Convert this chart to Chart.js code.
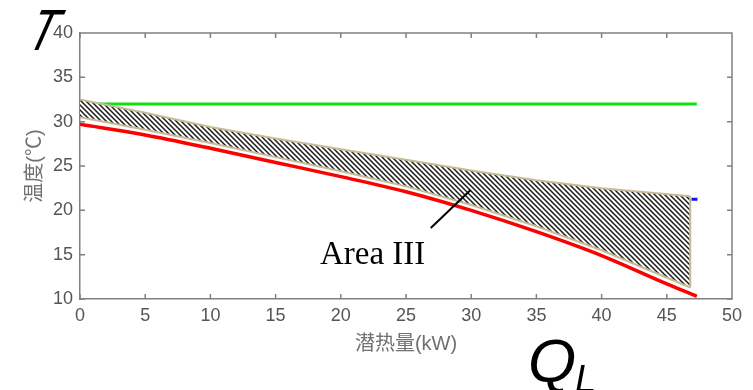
<!DOCTYPE html>
<html>
<head>
<meta charset="utf-8">
<script src="https://cdn.jsdelivr.net/npm/chart.js@4/dist/chart.umd.min.js"></script>
<style>html,body{margin:0;padding:0;background:#fff;}#wrap{width:753px;height:390px;}</style>
</head>
<body>
<div id="wrap"><canvas id="c" width="753" height="390"></canvas></div>
<script>
// ---- data ----
const xTickLabels = ['0','5','10','15','20','25','30','35','40','45','50'];
const yTickLabels = ['10','15','20','25','30','35','40'];

const redX = [0, 5, 10, 15, 20, 25, 30, 35, 40, 45, 47.3];
const redY = [29.7, 28.5, 27.0, 25.4, 23.8, 22.1, 20.0, 17.6, 14.9, 11.7, 10.3];

const greenX = [0, 47.3];
const greenY = [32, 32];

const bandX = [0, 5, 10, 15, 20, 25, 30, 35, 40, 46.8];
const bandTop = [32.5, 31.0, 29.4, 28.1, 26.9, 25.7, 24.5, 23.4, 22.5, 21.6];
const bandBottom = [30.5, 29.1, 27.6, 26.0, 24.4, 22.7, 20.6, 18.2, 15.5, 11.3];

const edgeX = [46.8, 46.8];
const edgeY = [21.6, 11.3];

const blueX = [46.9, 47.35];
const blueY = [21.25, 21.25];

const xAxisTitle = '潜热量(kW)';
const yAxisTitle = '温度(℃)';
const areaLabel = 'Area III';
const arrowFrom = [26.9, 18.0];
const arrowTo = [29.95, 22.3];
const areaLabelPos = [18.4, 14.0];

// ---- helpers ----
const pts = (xs, ys) => xs.map((x, i) => ({x: x, y: ys[i]}));

function hatchPattern() {
  const s = 5;
  const c = document.createElement('canvas');
  c.width = s; c.height = s;
  const g = c.getContext('2d');
  g.fillStyle = '#ffffff';
  g.fillRect(0, 0, s, s);
  g.strokeStyle = '#1a1a1a';
  g.lineWidth = 1.5;
  g.beginPath();
  g.moveTo(-1, -1); g.lineTo(s + 1, s + 1);
  g.moveTo(-1, s - 1); g.lineTo(1, s + 1);
  g.moveTo(s - 1, -1); g.lineTo(s + 1, 1);
  g.stroke();
  return document.getElementById('c').getContext('2d').createPattern(c, 'repeat');
}

const tan = '#c6bd98';
const axisGray = '#808080';
const tickFont = {family: "'Liberation Sans', Arial, sans-serif", size: 18};
const titleFont = {family: "'Liberation Sans', 'Noto Sans CJK SC', sans-serif", size: 20};

const boxPlugin = {
  id: 'boxTicks',
  afterDraw(chart) {
    const {ctx, chartArea: a, scales: {x, y}} = chart;
    ctx.save();
    ctx.strokeStyle = axisGray;
    ctx.lineWidth = 1.5;
    ctx.beginPath();
    ctx.moveTo(a.left, a.top); ctx.lineTo(a.right, a.top); ctx.lineTo(a.right, a.bottom);
    const L = 5;
    x.ticks.forEach(t => {
      const px = x.getPixelForValue(t.value);
      ctx.moveTo(px, a.bottom); ctx.lineTo(px, a.bottom - L);
      ctx.moveTo(px, a.top); ctx.lineTo(px, a.top + L);
    });
    y.ticks.forEach(t => {
      const py = y.getPixelForValue(t.value);
      ctx.moveTo(a.left, py); ctx.lineTo(a.left + L, py);
      ctx.moveTo(a.right, py); ctx.lineTo(a.right - L, py);
    });
    ctx.stroke();

    // annotation: arrow + label
    ctx.strokeStyle = '#000';
    ctx.lineWidth = 2;
    ctx.beginPath();
    ctx.moveTo(x.getPixelForValue(arrowFrom[0]), y.getPixelForValue(arrowFrom[1]));
    ctx.lineTo(x.getPixelForValue(arrowTo[0]), y.getPixelForValue(arrowTo[1]));
    ctx.stroke();
    ctx.fillStyle = '#000';
    ctx.font = "33px 'Liberation Serif', 'Times New Roman', serif";
    ctx.textBaseline = 'alphabetic';
    ctx.textAlign = 'left';
    ctx.fillText(areaLabel, x.getPixelForValue(areaLabelPos[0]), y.getPixelForValue(areaLabelPos[1]));

    // big symbol labels
    ctx.save();
    ctx.translate(23, 50);
    ctx.transform(0.75, 0, -0.44, 1, 0, 0);
    ctx.font = "58px 'Liberation Sans', Arial, sans-serif";
    ctx.fillText('T', 0, 0);
    ctx.restore();
    ctx.font = "italic 62px 'Liberation Sans', Arial, sans-serif";
    ctx.fillText('Q', 528, 382);
    ctx.font = "italic 38px 'Liberation Sans', Arial, sans-serif";
    ctx.fillText('L', 575, 392);
    ctx.restore();
  }
};

new Chart(document.getElementById('c'), {
  type: 'line',
  data: {
    datasets: [
      {label: 'red', data: pts(redX, redY), borderColor: '#ff0000', borderWidth: 3.5,
       pointRadius: 0, fill: false, cubicInterpolationMode: 'monotone', order: 0},
      {label: 'green', data: pts(greenX, greenY), borderColor: '#11e011', borderWidth: 3,
       pointRadius: 0, fill: false, order: 5},
      {label: 'blue', data: pts(blueX, blueY), borderColor: '#1010ff', borderWidth: 3,
       pointRadius: 0, fill: false, order: 1},
      {label: 'bandTop', data: pts(bandX, bandTop), borderColor: tan, borderWidth: 2,
       pointRadius: 0, fill: '+1', backgroundColor: hatchPattern(), order: 3},
      {label: 'bandBottom', data: pts(bandX, bandBottom), borderColor: tan, borderWidth: 2,
       pointRadius: 0, fill: false, order: 2},
      {label: 'edge', data: pts(edgeX, edgeY), borderColor: tan, borderWidth: 2,
       pointRadius: 0, fill: false, order: 2}
    ]
  },
  options: {
    responsive: false,
    animation: false,
    layout: {padding: {left: 0, top: 33, right: 21, bottom: 0}},
    plugins: {legend: {display: false}, tooltip: {enabled: false}},
    scales: {
      x: {
        type: 'linear', min: 0, max: 50,
        afterBuildTicks: s => { s.ticks = xTickLabels.map(v => ({value: Number(v)})); },
        afterFit: s => { s.height = 91; },
        grid: {display: false, drawTicks: false},
        border: {display: true, color: axisGray, width: 1.5},
        ticks: {color: '#555', font: tickFont, padding: 6, maxRotation: 0,
                callback: v => String(v)},
        title: {display: true, text: xAxisTitle, color: '#707070', font: titleFont,
                padding: {bottom: 34}}
      },
      y: {
        type: 'linear', min: 10, max: 40,
        afterBuildTicks: s => { s.ticks = yTickLabels.map(v => ({value: Number(v)})); },
        afterFit: s => { s.width = 80; },
        grid: {display: false, drawTicks: false},
        border: {display: true, color: axisGray, width: 1.5},
        ticks: {color: '#555', font: tickFont, padding: 7, callback: v => String(v)},
        title: {display: true, text: yAxisTitle, color: '#707070', font: titleFont,
                padding: {top: 23}}
      }
    }
  },
  plugins: [boxPlugin]
});
</script>
</body>
</html>
